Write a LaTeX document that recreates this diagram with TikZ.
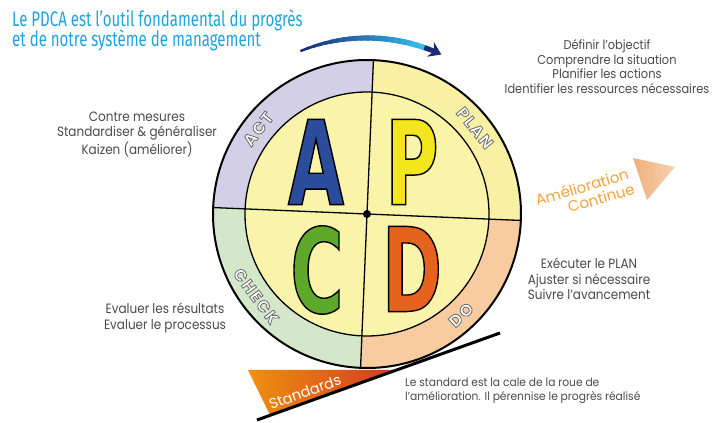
\documentclass[tikz,border=0pt]{standalone}
\usepackage{fontspec}
\usepackage{tikz}
\usetikzlibrary{arrows.meta}
\usetikzlibrary{calc}
\setmainfont{Poppins}
\newfontfamily\titlefont[FakeStretch=0.715]{Fira Sans}
\newfontfamily\bodyfont[FakeStretch=0.89]{Poppins}
\newfontfamily\stdfont[FakeStretch=0.93]{Poppins}
\newfontfamily\ringfont[LetterSpace=10]{Poppins}
\newfontfamily\letterfont[FakeStretch=0.62]{DejaVu Sans}
\definecolor{titleblue}{HTML}{1FA3DE}
\definecolor{textgray}{HTML}{4A4A4A}
\definecolor{actring}{HTML}{D3CFE7}
\definecolor{planring}{HTML}{F8F1A4}
\definecolor{doring}{HTML}{F8CBA1}
\definecolor{checkring}{HTML}{D4E7CA}
\definecolor{hubfill}{HTML}{F9F4AA}
\definecolor{letterA}{HTML}{2B4B9B}
\definecolor{letterP}{HTML}{F4E61C}
\definecolor{letterC}{HTML}{5EA82B}
\definecolor{letterD}{HTML}{E6631F}
\definecolor{amelio}{HTML}{F4A23A}
\definecolor{peachlight}{HTML}{F8D2B4}
\definecolor{peachdark}{HTML}{F0AE7C}
\definecolor{wedgeorange}{HTML}{F0900F}
\definecolor{wedgered}{HTML}{D23A1E}
\definecolor{arcstart}{HTML}{35BCEA}
\definecolor{arcend}{HTML}{1C2C78}
% filled glyphs with a stroked outline
\newcommand{\outlined}[3]{{\special{pdf:literal direct #1 RG #2 w 2 Tr}#3\special{pdf:literal direct 0 Tr}}}
\tikzset{
every node/.style={inner sep=0pt},
bigletter/.style={font=\letterfont\bfseries\fontsize{117}{117}\selectfont},
ringlabel/.style={font=\ringfont\bfseries\fontsize{16.5}{16.5}\selectfont, text=white},
infotext/.style={font=\bodyfont\fontsize{13.5}{15.5}\selectfont, text=textgray, align=center},
titleline/.style={anchor=base west, font=\titlefont\fontsize{21}{21}\selectfont, text=titleblue},
ameliotext/.style={font=\fontsize{15}{15}\selectfont, text=amelio, rotate=16}
}

\begin{document}
\begin{tikzpicture}[x=1pt,y=1pt]
\useasboundingbox (0,0) rectangle (713,423);

\node[titleline] (title1) at (12,396) {Le PDCA est l’outil fondamental du progrès};
\node[titleline] (title2) at (12,376) {et de notre système de management};

\coordinate (hub) at (367,209);

% the wheel
\begin{scope}[shift={(hub)}, rotate=-2.4]
\fill[actring] (0,0) -- (90:154) arc[start angle=90, end angle=180, radius=154] -- cycle;
\fill[planring] (0,0) -- (0:154) arc[start angle=0, end angle=90, radius=154] -- cycle;
\fill[doring] (0,0) -- (270:154) arc[start angle=270, end angle=360, radius=154] -- cycle;
\fill[checkring] (0,0) -- (180:154) arc[start angle=180, end angle=270, radius=154] -- cycle;
\draw[line width=1.3, fill=hubfill] (0,0) circle[radius=122];
\draw[line width=1.3] (90:154) -- (270:154);
\draw[line width=1.3] (180:154) -- (0:154);
\draw[line width=2] (0,0) circle[radius=154];
\end{scope}
\fill (hub) circle[radius=4];

\node[ringlabel, rotate=52] (act) at ($(hub)+(142:138)$) {\outlined{0.42 0.42 0.42}{0.8}{ACT}};
\node[ringlabel, rotate=-51] (plan) at ($(hub)+(38.6:138)$) {\outlined{0.42 0.42 0.42}{0.8}{PLAN}};
\node[ringlabel, rotate=43] (do) at ($(hub)+(-47:138)$) {\outlined{0.42 0.42 0.42}{0.8}{DO}};
\node[ringlabel, rotate=-53.5] (check) at ($(hub)+(216.5:138)$) {\outlined{0.42 0.42 0.42}{0.8}{CHECK}};

\node[bigletter, text=letterA] (A) at (316,261) {\outlined{0 0 0}{1.4}{A}};
\node[bigletter, text=letterP] (P) at (412,261) {\outlined{0 0 0}{1.4}{P}};
\node[bigletter, text=letterC] (C) at (317,153) {\outlined{0 0 0}{1.4}{C}};
\node[bigletter, text=letterD] (D) at (412,154) {\outlined{0 0 0}{1.4}{D}};

% rotating arrow over the wheel
\foreach \i in {0,...,20} {
\pgfmathsetmacro{\mix}{100-\i*5}
\pgfmathsetmacro{\lw}{2.5+3*sin(\i*6)}
\draw[line width=\lw, arcend!\mix!arcstart, line cap=round] (hub) ++(112-\i*2:176) arc[start angle=112-\i*2, end angle=109.5-\i*2, radius=176];
}
\draw[line width=5, arcend, -{Stealth[length=12pt,width=16pt]}] (hub) ++(71:176) arc[start angle=71, end angle=65, radius=176];

% text around the wheel
\node[infotext, font=\bodyfont\fontsize{12.8}{14.7}\selectfont] (plantext) at (607,356.5) {Définir l’objectif\\Comprendre la situation\\Planifier les actions\\Identifier les ressources nécessaires};
\node[infotext, font=\bodyfont\fontsize{13.5}{15}\selectfont] (acttext) at (137,288.5) {Contre mesures\\Standardiser \& généraliser\\Kaizen (améliorer)};
\node[infotext] (dotext) at (589,144) {Exécuter le PLAN\\Ajuster si nécessaire\\Suivre l’avancement};
\node[infotext] (checktext) at (165,105) {Evaluer les résultats\\Evaluer le processus};

% continuous improvement
\shade[left color=peachdark, right color=peachlight] (633,265) -- (675,256) -- (647,223) -- cycle;
\node[ameliotext] (amelio1) at (582,236) {Amélioration};
\node[ameliotext] (amelio2) at (601,225) {Continue};

% the standard wedge
\coordinate (s1) at (257,3);
\coordinate (s2) at (500,90);
\shade[left color=wedgeorange, right color=wedgered] (248,53) -- (397,53) -- (270,8) -- cycle;
\draw[line width=3] (s1) -- (s2);
\node[font=\fontsize{14.5}{14.5}\selectfont, text=white, rotate=19.7] (std) at (305,31) {Standards};
\node[infotext, align=left, anchor=west, font=\stdfont\fontsize{11.5}{14}\selectfont] (stdtext) at (405,32) {Le standard est la cale de la roue de\\l’amélioration. Il pérennise le progrès réalisé};
\end{tikzpicture}
\end{document}
